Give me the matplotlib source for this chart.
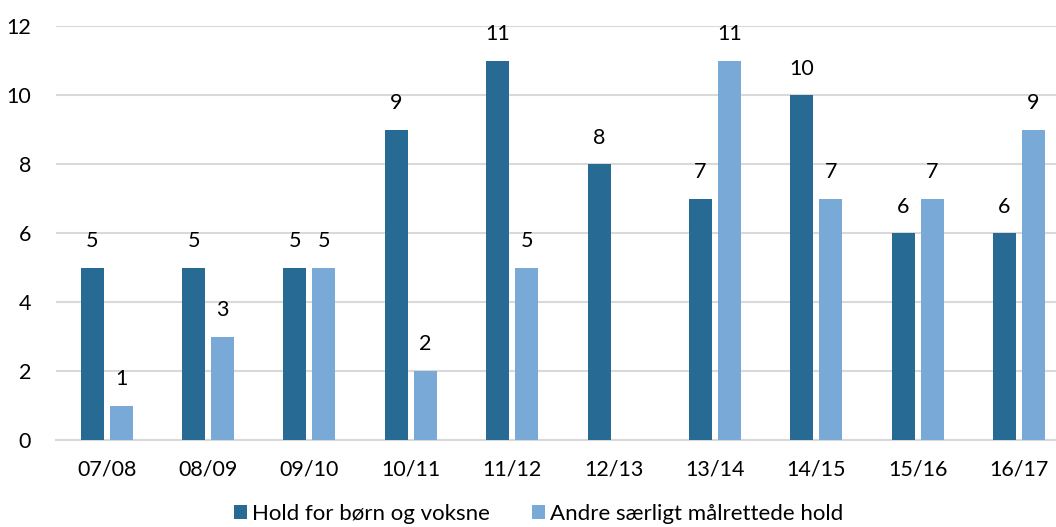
import numpy as np
import matplotlib.pyplot as plt

# Data
SEASONS = ["07/08", "08/09", "09/10", "10/11", "11/12", "12/13", "13/14", "14/15", "15/16", "16/17"]
HOLD_BORN_VOKSNE = [5, 5, 5, 9, 11, 8, 7, 10, 6, 6]
ANDRE_HOLD = [1, 3, 5, 2, 5, 0, 11, 7, 7, 9]
SERIES_NAMES = ["Hold for børn og voksne", "Andre særligt målrettede hold"]

DARK = "#276A93"
LIGHT = "#78A9D7"

plt.rcParams["font.family"] = ["Lato", "DejaVu Sans"]

fig = plt.figure(figsize=(10.56, 5.27), dpi=100)
ax = fig.add_axes([0.053, 0.165, 0.96, 0.785])

x = np.arange(len(SEASONS))
width = 0.227
offset = 0.143

bars1 = ax.bar(x - offset, HOLD_BORN_VOKSNE, width, color=DARK, label=SERIES_NAMES[0], zorder=3)
bars2 = ax.bar(x + offset, ANDRE_HOLD, width, color=LIGHT, label=SERIES_NAMES[1], zorder=3)

for bars in (bars1, bars2):
    for b in bars:
        h = b.get_height()
        if h == 0:
            continue
        ax.annotate(str(int(h)), (b.get_x() + b.get_width() / 2, h), xytext=(0, 12),
                    textcoords="offset points", ha="center", va="bottom", fontsize=15.5, color="#000000")

ax.set_ylim(0, 12)
ax.set_xlim(-0.5, len(SEASONS) - 0.5)
ax.set_yticks(range(0, 13, 2))
ax.set_xticks(x)
ax.set_xticklabels(SEASONS)
ax.tick_params(axis="both", length=0, labelsize=15.5, colors="#000000")
ax.tick_params(axis="x", pad=14)
ax.tick_params(axis="y", pad=18)
ax.grid(axis="y", color="#D9D9D9", linewidth=1.5, zorder=0)
for s in ["top", "right", "left"]:
    ax.spines[s].set_visible(False)
ax.spines["bottom"].set_color("#D9D9D9")
ax.spines["bottom"].set_linewidth(1.5)

fig.legend(handles=[bars1, bars2], labels=SERIES_NAMES, loc="lower center", bbox_to_anchor=(0.51, -0.032),
           ncol=2, frameon=False, fontsize=16, handlelength=0.6, handleheight=0.6,
           handletextpad=0.2, columnspacing=1.9)

fig.savefig("out.png", dpi=100)
